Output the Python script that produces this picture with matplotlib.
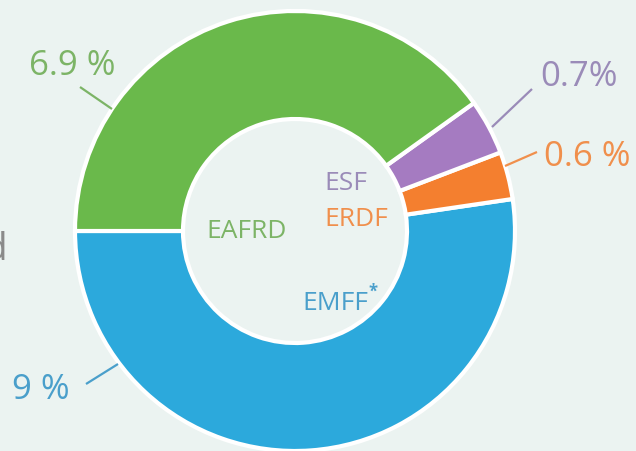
import matplotlib.pyplot as plt

# share of each fund, drawn counter-clockwise from the left
funds = ["EMFF", "ERDF", "ESF", "EAFRD"]
shares = [9.0, 0.6, 0.7, 6.9]
share_labels = ["9 %", "0.6 %", "0.7%", "6.9 %"]
colors = ["#2ca9dc", "#f47f2f", "#a57bc1", "#6ab94b"]
text_colors = ["#4a9fcb", "#f08f4c", "#9a8bb8", "#7cb466"]

BG = "#ebf3f1"
H = 452  # image height, used to flip y so positions read like pixels

fig = plt.figure(figsize=(6.36, 4.52), dpi=100, facecolor=BG)
ax = fig.add_axes([0, 0, 1, 1])
ax.set_facecolor(BG)

ax.pie(shares, colors=colors, startangle=180, counterclock=True,
       radius=220, center=(295, H - 232),
       wedgeprops=dict(width=108, edgecolor="white", linewidth=3))

ax.set_xlim(0, 636)
ax.set_ylim(0, H)
ax.set_aspect("equal")
ax.axis("off")

font = "Open Sans"

# outside percentage labels with leader lines (pixel positions from the picture)
pct_pos = [(41, 390), (587, 157), (579, 77), (72, 66)]
leaders = [((86, 385), (118, 365)), ((537, 153), (505, 167)),
           ((532, 90), (492, 128)), ((80, 88), (112, 110))]
for lab, (x, y), ((x0, y0), (x1, y1)), c in zip(share_labels, pct_pos, leaders, text_colors):
    ax.text(x, H - y, lab, color=c, fontsize=25, family=font,
            ha="center", va="center")
    ax.plot([x0, x1], [H - y0, H - y1], color=c, lw=1.6, solid_capstyle="butt")

# fund names inside the hole
name_pos = [(335, 303), (356, 220), (346, 183), (247, 232)]
for name, (x, y), c in zip(funds, name_pos, text_colors):
    ax.text(x, H - y, name, color=c, fontsize=19, family=font,
            ha="center", va="center")
ax.text(373, H - 292, "*", color=text_colors[0], fontsize=12, family=font,
        ha="center", va="center", fontweight="bold")

# cut-off word at the left edge
ax.text(8, H - 250, "d", color="#8a8a8a", fontsize=28, family=font,
        ha="right", va="center")

fig.savefig("out.png", dpi=100, facecolor=BG)
